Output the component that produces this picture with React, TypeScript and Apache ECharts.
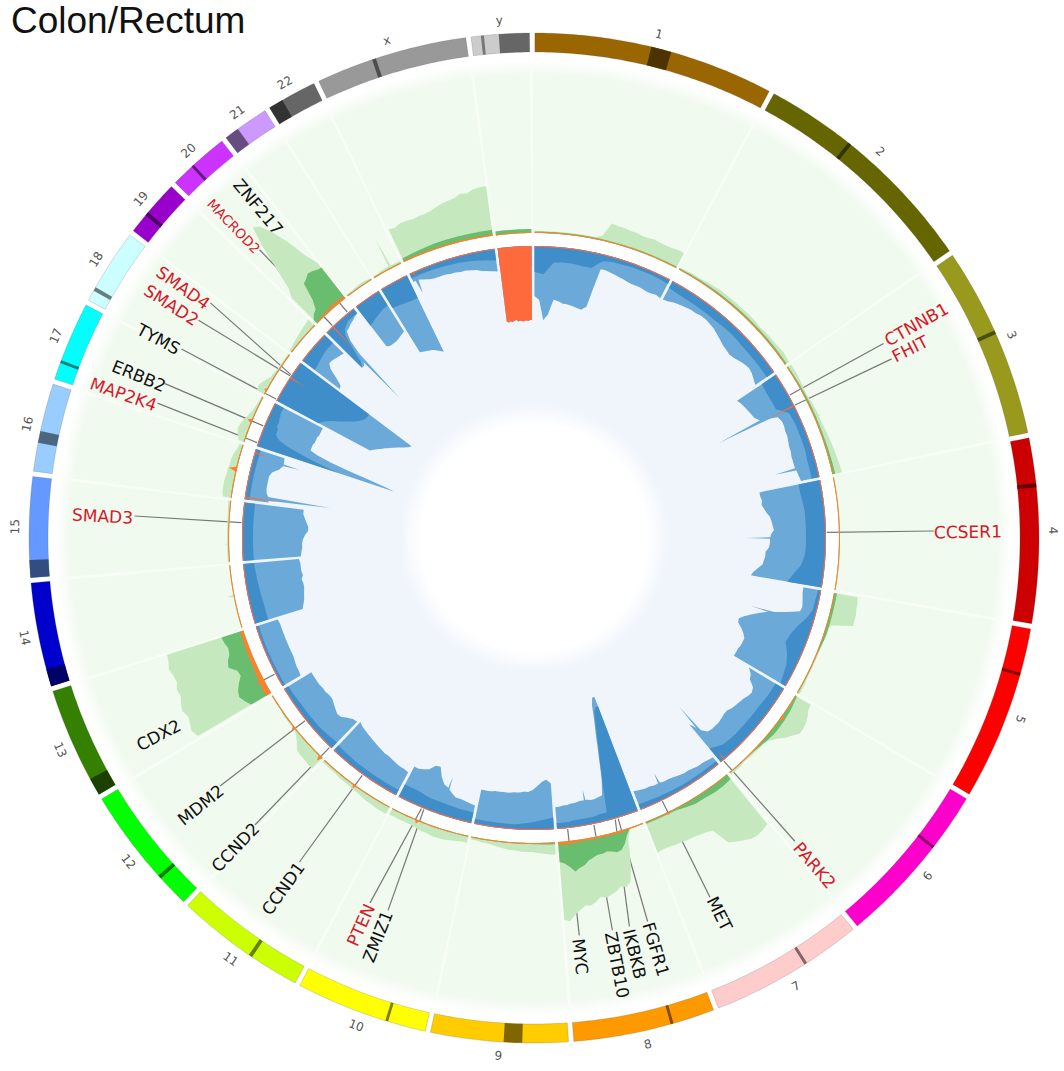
import React, { useEffect, useRef } from "react";
import * as echarts from "echarts";

// Chromosomes, lengths in Mb
const chromNames = ["1","2","3","4","5","6","7","8","9","10","11","12","13","14","15","16","17","18","19","20","21","22","x","y"];
const chromLengths = [249,243,198,191,181,171,159,146,141,136,135,134,115,107,103,90,81,78,59,63,48,51,155,59];
const chromColors = ["#996600","#666600","#99991e","#cc0000","#ff0000","#ff00cc","#ffcccc","#ff9900","#ffcc00","#ffff00","#ccff00","#00ff00","#358000","#0000cc","#6699ff","#99ccff","#00ffff","#ccffff","#9900cc","#cc33ff","#cc99ff","#666666","#999999","#cccccc"];
// Dark bands (Mb): one or two per chromosome
const darkBands = [[[120,141]],[[91,95]],[[88,92]],[[47,51]],[[46,49]],[[58,61]],[[58,61]],[[43,46]],[[47,66]],[[39,42]],[[51,55]],[[33,37]],[[0,18]],[[0,18]],[[0,18]],[[29,41]],[[17,20]],[[11,15]],[[20,24]],[[23,26]],[[0,15]],[[0,15]],[[58,62]],[[10,13],[28,59]]];

// Loss track: any loss, one row per chromosome, evenly spaced along it
const lossAll = [
  [50,54,74,68,53,54,56,56,57,58,59,55,15,15,16,17,18,19,20,20,20,21,21,20,21],
  [21,20,18,17,16,15,15,14,14,15,16,18,20,22,23,24,23,21,19,18,19,21,23],
  [47,45,44,43,42,41,37,20,18,18,19,19,20,21,21,22,22,22,21,20,19],
  [62,62,61,62,60,58,55,54,53,52,55,56,56,57,60,60,61,62,66,70,72],
  [18,18,17,16,15,16,30,46,55,62,68,72,71,66,62,59,59,59,60,60,60],
  [41,36,34,27,25,26,28,29,30,31,33,33,32,31,31,31,32,38,50],
  [9,10,11,11,12,13,13,14,15,16,16,17,17,18,18,19,20],
  [122,122,115,100,85,65,42,26,25,24,24,25,25,25,24,24,23,23,22,22],
  [46,50,48,44,40,38,38,37,37,36,36,36,36,35,35,35],
  [18,19,20,21,21,24,28,30,36,45,44,38,36,34,34],
  [26,27,27,28,29,30,30,31,32,33,34,35,36,37,39],
  [37,36,33,29,28,30,32,34,34,33,33,32,32,32,32],
  [21,22,22,23,24,24,24,24,24,24,24,24,23],
  [50,52,54,55,56,57,57,56,58,57,57,57,56],
  [58,59,60,60,61,63,66,66,64,62,60,60],
  [24,24,21,20,20,20,20,22,28,31,31,30],
  [145,135,118,95,75,60,52,52,52,52,53,53,53,53,54,54,54,54,54],
  [106,110,114,118,122,126,130,134,137,139],
  [47,46,38,28,23,23,24,25,26,27],
  [50,50,44,22,13,12,10,9,7,6],
  [50,52,52,52,52,51,50,49,48],
  [74,75,76,77,78,79,81,83,85],
  [9,9,11,13,14,14,14,15,15,16,16,17,18,20,21,22,23],
  [74,75,74,75,74,73,75,74,75,75,74,75,74,74],
];
// Loss track: high-level loss
const lossHigh = [
  [26,28,16,15,15,16,16,7,5,5,4,4,4,4,5],
  [8,9,9,9,8,9,9,9],
  [17,18,18,18,8,7,7,7,7,8,8,8],
  [22,22,21,20,20,20,20,20,21,24,30,35],
  [3,4,4,8,14,18,20,14,10,8,6],
  [10,10,11,11,11,11,12,18],
  [4,4,4,5,6],
  [112,112,108,95,80,62,40,8,8,8,7,7,7,7,7,7,6,6,6,6],
  [12,8,5,5,5],
  [11,11,12,12,14,14],
  [6,6,6,7],
  [8,6,6,5],
  [3,3,3],
  [14,14,13,12,11],
  [11,11,11,11],
  [5,5,5],
  [85,70,55,40,28,20,16,14,14,14,12,12,12,11,11,10,10,10,10],
  [48,52,58,66,72,78,82,85,86,86],
  [16,14,12,12],
  [50,45,30,15,10,8,6,6,6,6],
  [24,22,20,18,17],
  [22,23,24,25,25],
  [5,5,6,7,9,12],
  [20,20],
];
// Loss track: deep loss
const lossDeepY = [74,75,74,75,74,73,75,74,75,75,74,75,74,74];
const lossDeep = chromNames.map((n) => (n === "y" ? lossDeepY : [1,1]));

// Gain track
const gainAll = [
  [2,2,2,2,2,2,2,2,2,2,2,5,19,18,18,17,17,16,16,17,16,16,16,17,17],
  [2,3,3,4,5,5,5,5,5,4,5,5,6,5],
  [5,5,4,3,4,5,5,6,7,8,9,10],
  [1,1,1,1,1],
  [24,25,25,26,26,26,5,2,2,2,2,2,2,2,2,2,2,2,3,3,3],
  [18,19,22,24,25,25,20,16,10,6,3,3,3,3,2,2,3,3,3],
  [64,66,67,66,63,60,56,38,36,35,34,34,33,33,32,32,33],
  [1,1,1,1,10,35,52,56,54,58,60,62,60,64,67,66,70,74,80,78],
  [12,12,11,10,9,9,9,8,8,7,6,5,4,4,3,3],
  [7,7,8,9,10,10,10,9,9,8,7,7,7,7,7],
  [8,8,8,7,7,6,5,5,4,4,4,3,3,3,3],
  [15,15,14,14,13,8,4,2,2,2,2,1,1,1,1],
  [85,88,86,84,87,85,82,83,80,81,83,81,80],
  [1,1,1,1,1],
  [2,2,2,2,3],
  [9,10,10,10,9,9,8,8,7,5,4],
  [6,9,11,10,8,6,4,3,2,2],
  [9,10,7,4,3,2,2,2,2],
  [3,4,5,6,7,8,9],
  [36,45,68,95,114,110,97,80,58,45],
  [2,2,3,3,2],
  [2,2,3,3,3,3,3],
  [36,35,37,37,36,37,37,38,40,42,43,44,47,46,49,50,50],
  [4,4,4,4,4],
];
const gainHigh = [
  [1.5,1.5,1.5,1.5,1.5],[1.5,2,2,2],[1.5,2,2,3],[0.5,0.5],[3,3,3,1,1,1],[2,4,5,5,3,1,1,1],
  [6,7,7,6,6,4,2,2,2,2],[1,1,1,1,6,14,19,20,18,17,18,18,20,22,26,28,31,26,22,20],[2,1,1,1],[1,1,1,1],[1,1,1],[1,1,1],
  [23,27,30,28,24,19,20,27,25,21,20,22,23],[0.5,0.5],[0.5,0.5],[1,1,1],[1,1,1],[1,1,1],[1,1,1],
  [5,9,11,20,38,40,43,42,40,39],[1,1],[1,1],[4,5,6,6,6,6],[4,4,4],
];
const ampAll = [
  [1,1],[1,1],[1,1],[1,1],[1,1],[1,1],[1,1],[1,2,2,3],[1,1],[1,1],[1,1],[1,1],
  [6,5,4,4,3],[1,1],[1,1],[1,1],[1,1],[1,1],[1,1],[1,2,3,3],[1,1],[1,1],[1.5,1.5],[1,1],
];
// Narrow peaks: [chromosome index, Mb, value]
const lossPeaks = [[2,61.6,84],[2,174,43],[3,103,80],[4,63,65],[5,163,69],[6,109,28],[7,88.7,36],[9,56.6,40],[15,7,86],[15,76,48],[19,13,98],[22,7.3,23]];
const deepPeaks = [[2,63.4,30],[15,3.5,35],[15,83,13],[17,47,18],[19,15,32],[5,163,10],[22,7,6]];
const gainPeaks = [[13,55,8],[21,32,34],[2,96.7,8],[22,15,30],[14,30,4]];
const ampPeaks = [[5,44,5],[6,118,3],[7,128,5],[7,38.7,4],[9,90,4],[10,69,4],[11,3.4,6],[11,69,4],[12,25,9],[16,37,5],[15,48,8],[17,8,3]];

// Genes
const geneNames = ["CTNNB1","FHIT","CCSER1","PARK2","MET","FGFR1","IKBKB","ZBTB10","MYC","ZMIZ1","PTEN","CCND1","CCND2","MDM2","CDX2","SMAD3","MAP2K4","ERBB2","TYMS","SMAD2","SMAD4","MACROD2","ZNF217"];
const geneIsLost = [1,1,1,1,0,0,0,0,0,0,1,0,0,0,0,1,1,0,0,1,1,1,0];

// Layout of gene labels, in degrees clockwise from the top and track radii
const geneTextAngle = [60.8,63.3,89.2,139.4,153.7,163.5,166.4,169,173.7,201.4,204.1,215.6,224,231.3,242.3,272.9,289.3,292.3,297.9,302.7,305.5,316.1,320.2];
const geneTextRadius = [438,421,434,431,419,429,428,435,421,428,424,431,430,427,424,432,435,427,425,431,431,433,431];
const geneInnerAngle = [60.8,63,88.9,139.6,154,163.3,163.9,168.2,173.4,202.1,202.6,215.9,224.3,231.4,242.3,273,289,292.5,298.3,303.6,303.9,316.5,320.4];
const geneOuterAngle = [60.9,63.4,89,139.3,153.9,163.5,166.2,168.7,173.5,201.4,204.2,215.9,224.2,231.7,242.3,273.15,289.7,292.7,298.2,303,306,316.4,320.4];
const geneLineEnd = [400,400,400,400,400,400,400,400,400,400,400,400,400,400,375,400,400,400,400,400,400,398,370];

const CX = 534, CY = 538;
const R_RING_OUT = 505, R_RING_IN = 486, R_GAIN_BG = 478, R_GAIN = 305, R_LOSS = 292, R_HOLE = 113;
const START = 0.1, GAP = 0.6;
// Degrees per Mb: the figure's spacing differs slightly by stretch of the genome
const degPerMb = chromNames.map((_, i) => (i < 5 ? 0.1111 : i < 15 ? 0.11174 : 0.1127));

const chromStart: number[] = [];
{
  let a = START;
  chromLengths.forEach((l, i) => { chromStart.push(a); a += l * degPerMb[i] + GAP; });
}
const angleAt = (c: number, mb: number) => chromStart[c] + mb * degPerMb[c];
const chromEnd = (c: number) => angleAt(c, chromLengths[c]);

type Pt = [number, number];
type Shape = { pts: Pt[]; fill: any; stroke?: string; lw?: number };

function band(a0: number, a1: number, r0: number, r1: number): Pt[] {
  const n = Math.max(2, Math.ceil((a1 - a0) / 0.5));
  const out: Pt[] = [], back: Pt[] = [];
  for (let i = 0; i <= n; i++) {
    const a = a0 + ((a1 - a0) * i) / n;
    out.push([r1, a]);
    back.unshift([r0, a]);
  }
  return out.concat(back);
}

function profile(c: number, vals: number[], base: number, dir: number): Pt[] {
  const a0 = chromStart[c], a1 = chromEnd(c);
  const seg = vals.length - 1;
  const tip: Pt[] = [], root: Pt[] = [];
  vals.forEach((v, i) => {
    if (i === seg) return;
    const sub = Math.max(1, Math.ceil(((a1 - a0) / seg) / 0.75));
    for (let k = 0; k < sub; k++) {
      const t = k / sub;
      const a = a0 + ((a1 - a0) * (i + t)) / seg;
      const w = v + (vals[i + 1] - v) * t;
      tip.push([base + dir * w, a]);
      root.unshift([base, a]);
    }
  });
  tip.push([base + dir * vals[seg], a1]);
  root.unshift([base, a1]);
  return tip.concat(root);
}

function peak(p: number[], base: number, dir: number, half: number): Pt[] {
  const a = angleAt(p[0], p[1]);
  return [[base, a - half], [base + dir * p[2], a], [base, a + half]];
}

function shade(hex: string, f: number) {
  const n = parseInt(hex.slice(1), 16);
  const ch = (s: number) => Math.round(((n >> s) & 255) * f);
  return `rgb(${ch(16)},${ch(8)},${ch(0)})`;
}

const COL = {
  gainBg: "#f1faef", gainEdge: "#f8fdf7", lossBg: "#f0f5fc",
  gainLight: "#c5e8bf", gainDark: "#69bd6e", amp: "#ff7f2a",
  lossLight: "#6aa9d8", lossDark: "#3f8ec9", deep: "#ff6a3d",
  line: "#777777", red: "#d7182a", black: "#111111", chrom: "#555555",
};

// Soft edges of the two background rings
const gainFill = new echarts.graphic.RadialGradient(CX, CY, R_GAIN_BG, [
  { offset: 0, color: COL.gainBg },
  { offset: 0.97, color: COL.gainBg },
  { offset: 1, color: "#ffffff" },
], true);
const lossFill = new echarts.graphic.RadialGradient(CX, CY, R_LOSS, [
  { offset: 0, color: "#ffffff" },
  { offset: R_HOLE / R_LOSS, color: "#ffffff" },
  { offset: (R_HOLE + 22) / R_LOSS, color: COL.lossBg },
  { offset: 1, color: COL.lossBg },
], true);

const idx = chromNames.map((_, i) => i);

const layers: Shape[][] = [
  [
    { pts: band(0, 360, R_GAIN, R_GAIN_BG), fill: gainFill },
    { pts: band(0, 360, R_HOLE, R_LOSS), fill: lossFill },
  ],
  // faint gaps between chromosomes in the gain background
  idx.map((c) => ({ pts: band(chromEnd(c), chromEnd(c) + GAP * 0.6, R_GAIN, R_GAIN_BG - 4), fill: COL.gainEdge })),
  // chromosome ring
  idx.map((c) => ({ pts: band(chromStart[c], chromEnd(c), R_RING_IN, R_RING_OUT), fill: chromColors[c], stroke: "rgba(80,80,80,0.35)", lw: 0.6 })),
  idx.flatMap((c) => darkBands[c].map((b) => ({ pts: band(angleAt(c, b[0]), angleAt(c, b[1]), R_RING_IN, R_RING_OUT), fill: c === 23 ? (b[0] < 20 ? "#777777" : "#666666") : shade(chromColors[c], 0.5) }))),
];
const dataLayers: Shape[][] = [
  idx.map((c) => ({ pts: profile(c, gainAll[c], R_GAIN, 1), fill: COL.gainLight })),
  gainPeaks.map((p) => ({ pts: peak(p, R_GAIN, 1, 0.25), fill: COL.gainLight })),
  idx.map((c) => ({ pts: profile(c, gainHigh[c], R_GAIN, 1), fill: COL.gainDark })),
  idx.map((c) => ({ pts: profile(c, ampAll[c], R_GAIN, 1), fill: COL.amp })),
  ampPeaks.map((p) => ({ pts: peak(p, R_GAIN, 1, 0.5), fill: COL.amp })),
  idx.map((c) => ({ pts: profile(c, lossAll[c], R_LOSS, -1), fill: COL.lossLight })),
  lossPeaks.map((p) => ({ pts: peak(p, R_LOSS, -1, 0.5), fill: COL.lossLight })),
  idx.map((c) => ({ pts: profile(c, lossHigh[c], R_LOSS, -1), fill: COL.lossDark })),
  idx.map((c) => ({ pts: profile(c, lossDeep[c], R_LOSS, -1), fill: COL.deep })),
  deepPeaks.map((p) => ({ pts: peak(p, R_LOSS, -1, 0.15), fill: COL.deep })),
];

function polySeries(layer: Shape[]) {
  return {
    type: "custom", coordinateSystem: "polar", silent: true,
    encode: { radius: 0, angle: 1 },
    data: layer.map((s) => [s.pts[0][0], s.pts[0][1]]),
    renderItem: (p: any, api: any) => {
      const s = layer[p.dataIndex];
      return {
        type: "polygon",
        shape: { points: s.pts.map((q) => api.coord(q)) },
        style: { fill: s.fill, stroke: s.stroke || null, lineWidth: s.lw || 0 },
      };
    },
  };
}

const lineSeries = {
  type: "custom", coordinateSystem: "polar", silent: true,
  encode: { radius: 0, angle: 1 },
  data: geneNames.map((_, i) => [R_LOSS, geneInnerAngle[i]]),
  renderItem: (p: any, api: any) => {
    const i = p.dataIndex;
    const a = api.coord([R_LOSS + 1, geneInnerAngle[i]]), b = api.coord([geneLineEnd[i], geneOuterAngle[i]]);
    return { type: "line", shape: { x1: a[0], y1: a[1], x2: b[0], y2: b[1] }, style: { stroke: COL.line, lineWidth: 1.2 } };
  },
};

function textRotation(theta: number) {
  const phi = theta <= 180 ? 90 - theta : 270 - theta;
  return (phi * Math.PI) / 180;
}

const geneSeries = {
  type: "custom", coordinateSystem: "polar", silent: true,
  encode: { radius: 0, angle: 1 },
  data: geneNames.map((_, i) => [geneTextRadius[i], geneTextAngle[i]]),
  renderItem: (p: any, api: any) => {
    const i = p.dataIndex;
    const c = api.coord([geneTextRadius[i], geneTextAngle[i]]);
    return {
      type: "text", x: c[0], y: c[1], rotation: textRotation(geneTextAngle[i]),
      style: {
        text: geneNames[i], fill: geneIsLost[i] ? COL.red : COL.black,
        fontFamily: "DejaVu Sans", fontSize: geneNames[i] === "MACROD2" ? 13.5 : 17,
        align: "center", verticalAlign: "middle",
      },
    };
  },
};

const chromLabelSeries = {
  type: "custom", coordinateSystem: "polar", silent: true,
  encode: { radius: 0, angle: 1 },
  data: idx.map((c) => [519, (chromStart[c] + chromEnd(c)) / 2]),
  renderItem: (p: any, api: any) => {
    const c = p.dataIndex;
    const a = (chromStart[c] + chromEnd(c)) / 2;
    const pos = api.coord([519, a]);
    const cw = a > 120 && a < 270 ? a - 180 : a;
    return {
      type: "text", x: pos[0], y: pos[1], rotation: (-cw * Math.PI) / 180,
      style: { text: chromNames[c], fill: COL.chrom, fontFamily: "DejaVu Sans", fontSize: 12, align: "center", verticalAlign: "middle" },
    };
  },
};

export default function App() {
  const ref = useRef<HTMLDivElement>(null);
  useEffect(() => {
    document.body.style.margin = "0";
    const chart = echarts.init(ref.current!, undefined, { renderer: "svg" });
    chart.setOption({
      animation: false,
      backgroundColor: "#ffffff",
      title: { text: "Colon/Rectum", left: 6, top: -3, textStyle: { fontFamily: "Liberation Sans", fontSize: 37, fontWeight: "normal", color: "#111111" } },
      polar: { center: [CX, CY], radius: [0, R_RING_OUT] },
      radiusAxis: { type: "value", min: 0, max: R_RING_OUT, show: false },
      angleAxis: { type: "value", min: 0, max: 360, startAngle: 90, clockwise: true, show: false },
      tooltip: { show: false },
      series: [
        ...layers.map(polySeries),
        lineSeries,
        ...dataLayers.map(polySeries),
        chromLabelSeries,
        geneSeries,
      ],
    });
    return () => chart.dispose();
  }, []);
  return <div ref={ref} style={{ width: 1064, height: 1071 }} />;
}
